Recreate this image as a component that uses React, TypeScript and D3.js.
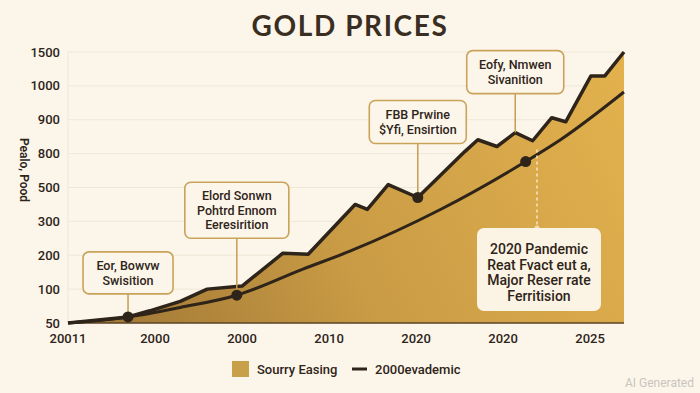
import React from 'react';
import * as d3 from 'd3';

const W = 700;
const H = 393;

// x axis: evenly spaced period slots, label per slot
const xLabels = ['20011', '2000', '2000', '2010', '2020', '2020', '2025'];
const yTicks = [50, 100, 200, 300, 500, 800, 900, 1000, 1500];

// gold price (jagged area)
const pricePeriods = [0, 0.69, 0.94, 1.29, 1.6, 2.0, 2.47, 2.76, 3.3, 3.44, 3.68, 4.02, 4.56, 4.71, 4.93, 5.14, 5.34, 5.56, 5.72, 6.01, 6.17, 6.39];
const priceValues = [50, 59, 68, 82, 100, 109, 206, 203, 400, 371, 526, 441, 806, 841, 821, 862, 838, 906, 894, 1147, 1147, 1500];

// smooth trend line
const trendPeriods = [0, 0.69, 1.29, 1.94, 2.7, 3.24, 4.28, 5.26, 5.66, 6.39];
const trendValues = [50, 59, 73, 91, 159, 212, 370, 730, 841, 982];

const annotationTexts = [
  ['Eor, Bowvw', 'Swisition'],
  ['Elord Sonwn', 'Pohtrd Ennom', 'Eeresirition'],
  ['FBB Prwine', '$Yfi, Ensirtion'],
  ['Eofy, Nmwen', 'Sivanition'],
  ['2020 Pandemic', 'Reat Fvact eut a,', 'Major Reser rate', 'Ferritision'],
];

const legendLabels = ['Sourry Easing', '2000evademic'];

const margin = { top: 52, right: 76, bottom: 70, left: 68 };
const font = 'Roboto, "Noto Sans", sans-serif';
const ink = '#2e2419';

export default function App() {
  const x = d3.scaleLinear()
    .domain([0, 6.39])
    .range([margin.left, W - margin.right]);

  // categorical-looking y axis: ticks are equally spaced
  const y = d3.scaleLinear()
    .domain(yTicks)
    .range(yTicks.map((_, i) => H - margin.bottom - i * ((H - margin.bottom - margin.top) / (yTicks.length - 1))));

  const price = pricePeriods.map((p, i) => [p, priceValues[i]]);
  const trend = trendPeriods.map((p, i) => [p, trendValues[i]]);

  const area = d3.area<number[]>()
    .x(d => x(d[0]))
    .y0(y(50))
    .y1(d => y(d[1]));
  const priceLine = d3.line<number[]>()
    .x(d => x(d[0]))
    .y(d => y(d[1]));
  const trendLine = d3.line<number[]>()
    .x(d => x(d[0]))
    .y(d => y(d[1]))
    .curve(d3.curveMonotoneX);

  const dots = [trend[1], trend[3], price[11], trend[7]];

  // box layout: anchor point, box size, gap above anchor
  const boxes = [
    { pt: trend[1], w: 90, h: 42, gap: 23 },
    { pt: trend[3], w: 104, h: 56, gap: 57 },
    { pt: price[11], w: 97, h: 43, gap: 54 },
    { pt: price[15], w: 97, h: 43, gap: 39 },
  ];

  const bigX = x(5.39);
  const bigTop = 228;

  return (
    <svg width={W} height={H} style={{ position: 'absolute', left: 0, top: 0 }} fontFamily={font}>
      <defs>
        <linearGradient id="gold" gradientUnits="userSpaceOnUse" x1={margin.left} y1={H - margin.bottom} x2={W - margin.right} y2={margin.top}>
          <stop offset="0" stopColor="#9c7434" />
          <stop offset="0.45" stopColor="#c99b45" />
          <stop offset="1" stopColor="#e3b24e" />
        </linearGradient>
      </defs>
      <rect width={W} height={H} fill="#fcf6ea" />

      <text x={W / 2} y={36} textAnchor="middle" fontSize={28} fontWeight={700} fill="#3a2e22" fontFamily='Lato, "DejaVu Sans", sans-serif' letterSpacing={1.6}>
        GOLD PRICES
      </text>

      {yTicks.map(t => (
        <g key={t}>
          <line x1={margin.left} x2={W - margin.right} y1={y(t)} y2={y(t)} stroke="#efe7d7" strokeWidth={1} />
          <text x={60} y={y(t) + 4.5} textAnchor="end" fontSize={13} fontWeight={500} fill={ink}>{t}</text>
        </g>
      ))}
      <line x1={margin.left} x2={margin.left} y1={margin.top} y2={y(50)} stroke="#efe7d7" />

      <text transform={`translate(20,${170}) rotate(90)`} textAnchor="middle" fontSize={12} fontWeight={600} fill={ink}>
        Pealo, Pood
      </text>

      <path d={area(price) ?? ''} fill="url(#gold)" />
      <line x1={margin.left} x2={x(6.39)} y1={y(50)} y2={y(50)} stroke="#5a4326" strokeWidth={1.5} />
      <path d={priceLine(price) ?? ''} fill="none" stroke={ink} strokeWidth={3.5} strokeLinejoin="round" />
      <path d={trendLine(trend) ?? ''} fill="none" stroke={ink} strokeWidth={3} />

      {xLabels.map((l, i) => (
        <text key={i} x={x(i)} y={343} textAnchor="middle" fontSize={13} fontWeight={500} fill={ink}>{l}</text>
      ))}

      {boxes.map((b, i) => {
        const cx = x(b.pt[0]);
        const py = y(b.pt[1]);
        const bottom = py - b.gap;
        const top = bottom - b.h;
        const lines = annotationTexts[i];
        const mid = top + b.h / 2;
        return (
          <g key={i}>
            <line x1={cx} x2={cx} y1={bottom} y2={py} stroke="#c49d55" strokeWidth={1.5} />
            <rect x={cx - b.w / 2} y={top} width={b.w} height={b.h} rx={6} fill="#fcf6ea" stroke="#c9a35a" strokeWidth={1.6} />
            {lines.map((t, j) => (
              <text key={j} x={cx} y={mid + (j - (lines.length - 1) / 2) * 14.5 + 4.5} textAnchor="middle" fontSize={12.5} fontWeight={500} fill={ink}>{t}</text>
            ))}
          </g>
        );
      })}

      <line x1={bigX} x2={bigX} y1={y(trendValues[7]) - 12} y2={bigTop} stroke="#f6e7c4" strokeWidth={1.5} strokeDasharray="3,3" />
      <circle cx={bigX} cy={bigTop} r={2.5} fill="#f0dcae" />
      <rect x={bigX - 60} y={bigTop} width={124} height={83} rx={7} fill="#fbf3e3" />
      {annotationTexts[4].map((t, j) => (
        <text key={j} x={bigX + 2} y={bigTop + 26 + j * 15.5} textAnchor="middle" fontSize={14} fontWeight={500} fill={ink}>{t}</text>
      ))}

      {dots.map((d, i) => (
        <circle key={i} cx={x(d[0])} cy={y(d[1])} r={5.5} fill={ink} />
      ))}

      <rect x={232} y={361} width={17} height={16} fill="#c9a04a" />
      <text x={257} y={374} fontSize={13} fontWeight={500} fill={ink}>{legendLabels[0]}</text>
      <line x1={352} x2={367} y1={369} y2={369} stroke={ink} strokeWidth={3} />
      <text x={375} y={374} fontSize={13} fontWeight={500} fill={ink}>{legendLabels[1]}</text>

      <text x={694} y={387} textAnchor="end" fontSize={12} fill="#c9c5be">AI Generated</text>
    </svg>
  );
}
